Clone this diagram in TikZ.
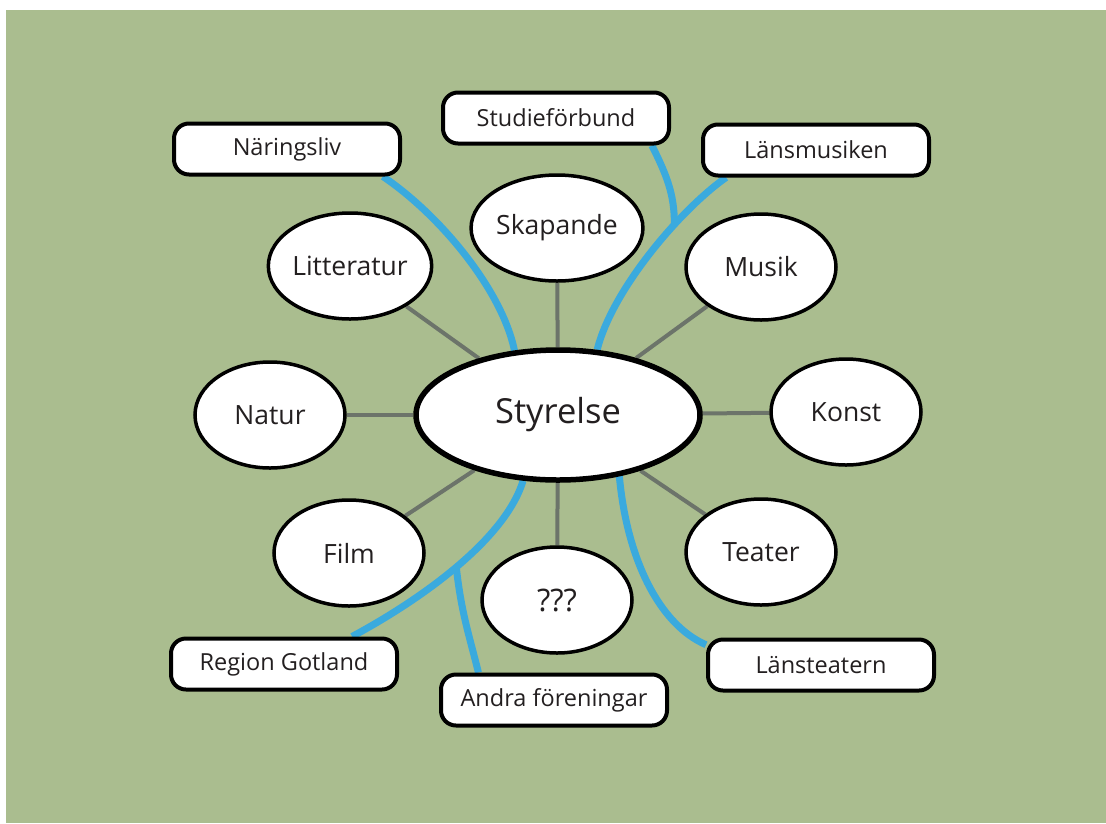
\documentclass[tikz,border=0pt]{standalone}
\usepackage{fontspec}
\setmainfont{Open Sans}
\usetikzlibrary{shapes.geometric, backgrounds}

\definecolor{meadow}{RGB}{170,189,143}
\definecolor{linkblue}{RGB}{58,170,222}
\definecolor{spokegray}{RGB}{108,116,106}
\definecolor{ink}{RGB}{35,31,32}

\begin{document}
\begin{tikzpicture}[x=1pt, y=-1pt,
	hub/.style={ellipse, draw=black, line width=5.5pt, fill=white, minimum width=284pt, minimum height=130pt, inner sep=0pt, text=ink, font=\fontsize{34.5}{38}\selectfont},
	group/.style={ellipse, draw=black, line width=3.5pt, fill=white, minimum width=150pt, minimum height=106pt, inner sep=0pt, text=ink, font=\fontsize{26.5}{30}\selectfont},
	partner/.style={rectangle, rounded corners=15pt, draw=black, line width=4pt, fill=white, minimum width=226pt, minimum height=51pt, inner sep=0pt, text=ink, font=\fontsize{23.5}{27}\selectfont},
	spoke/.style={draw=spokegray, line width=4pt},
	link/.style={draw=linkblue, line width=7pt}]
	\useasboundingbox (0,0) rectangle (1106,823);

	% centre and interest groups
	\node[hub] (sty) at (558,415) {Styrelse};
	\node[group] (ska) at (557,228) {Skapande};
	\node[group] (lit) at (350,266) {Litteratur};
	\node[group] (mus) at (761,267) {Musik};
	\node[group] (nat) at (270,415) {Natur};
	\node[group] (kon) at (846,412) {Konst};
	\node[group] (fil) at (349,553) {Film};
	\node[group] (tea) at (761,552) {Teater};
	\node[group, font=\fontsize{31}{34}\selectfont] (que) at (557,600) {???};

	% partners
	\node[partner] (nar) at (287,149) {Näringsliv};
	\node[partner] (stu) at (556,118) {Studieförbund};
	\node[partner] (lmu) at (816,150) {Länsmusiken};
	\node[partner] (reg) at (284,664) {Region Gotland};
	\node[partner] (and) at (554,700) {Andra föreningar};
	\node[partner] (lte) at (821,665) {Länsteatern};

	\begin{pgfonlayer}{background}
		\fill[meadow] (6,10) rectangle (1106,823);

		\foreach \g in {ska, lit, mus, nat, kon, fil, tea, que}
			\draw[spoke] (sty) -- (\g);

		\draw[link] (nar.-16) .. controls (440,215) and (502,290) .. (sty.124);
		\draw[link] (lmu.197) .. controls (680,210) and (612,290) .. (sty.59)
			coordinate[pos=0.34] (jm);
		\draw[link] (stu.-16) .. controls +(15,30) and +(0,-30) .. (jm);
		\draw[link] (reg.22) .. controls (420,600) and (505,540) .. (sty.-118)
			coordinate[pos=0.5] (jr);
		\draw[link] (jr) .. controls +(5,45) and +(-10,-40) .. (and.160);
		\draw[link] (sty.-45) .. controls (627,560) and (660,625) .. (lte.170);
	\end{pgfonlayer}
\end{tikzpicture}
\end{document}
